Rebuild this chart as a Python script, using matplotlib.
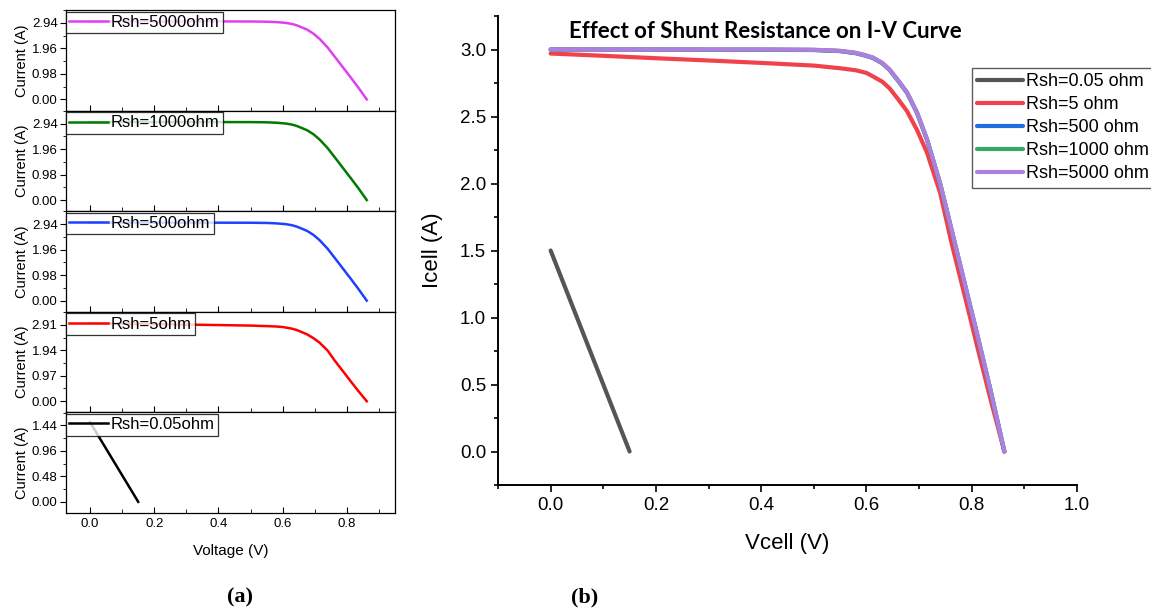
import numpy as np
import matplotlib
matplotlib.use("Agg")
import matplotlib.pyplot as plt
from matplotlib.ticker import MultipleLocator, AutoMinorLocator

plt.rcParams['font.family'] = ['Liberation Sans', 'DejaVu Sans']

# voltage grid (V)
v_grid = [0.0, 0.1, 0.2, 0.3, 0.4, 0.5, 0.55, 0.58, 0.60, 0.612, 0.63, 0.644, 0.66,
          0.677, 0.696, 0.715, 0.74, 0.762, 0.79, 0.81, 0.835, 0.862]
i_5000 = [3.0, 3.0, 3.0, 3.0, 3.0, 2.998, 2.99, 2.975, 2.955, 2.94, 2.90, 2.85, 2.77,
          2.68, 2.53, 2.33, 2.00, 1.65, 1.20, 0.88, 0.47, 0.0]
i_1000 = [3.0, 3.0, 3.0, 2.999, 2.999, 2.997, 2.989, 2.974, 2.954, 2.939, 2.899, 2.849, 2.769,
          2.679, 2.529, 2.329, 1.999, 1.649, 1.199, 0.879, 0.469, 0.0]
i_500 = [3.0, 2.999, 2.999, 2.998, 2.998, 2.996, 2.988, 2.972, 2.952, 2.937, 2.897, 2.847, 2.767,
         2.677, 2.527, 2.327, 1.997, 1.647, 1.197, 0.877, 0.467, 0.0]
i_5 = [2.97, 2.953, 2.935, 2.918, 2.90, 2.88, 2.86, 2.845, 2.825, 2.80, 2.76, 2.71, 2.63,
       2.54, 2.40, 2.23, 1.93, 1.55, 1.11, 0.79, 0.40, 0.0]
v_005 = [0.0, 0.15]
i_005 = [1.5, 0.0]

# panel (a) order top to bottom
a_labels = ['Rsh=5000ohm', 'Rsh=1000ohm', 'Rsh=500ohm', 'Rsh=5ohm', 'Rsh=0.05ohm']
a_colors = ['#E040F0', '#007A00', '#2040FF', '#FF0000', '#000000']
a_curves = [(v_grid, i_5000), (v_grid, i_1000), (v_grid, i_500), (v_grid, i_5), (v_005, i_005)]
a_ticks = [[0.00, 0.98, 1.96, 2.94], [0.00, 0.98, 1.96, 2.94], [0.00, 0.98, 1.96, 2.94],
           [0.00, 0.97, 1.94, 2.91], [0.00, 0.48, 0.96, 1.44]]

# panel (b)
b_labels = ['Rsh=0.05 ohm', 'Rsh=5 ohm', 'Rsh=500 ohm', 'Rsh=1000 ohm', 'Rsh=5000 ohm']
b_colors = ['#555555', '#F0424A', '#1E6FDC', '#36A865', '#AE7FDE']
b_curves = [(v_005, i_005), (v_grid, i_5), (v_grid, i_500), (v_grid, i_1000), (v_grid, i_5000)]

fig = plt.figure(figsize=(11.51, 6.13), dpi=100)

gs = fig.add_gridspec(5, 1, left=66/1151, right=395/1151, top=1-10/613, bottom=1-513/613, hspace=0)
for k in range(5):
    ax = fig.add_subplot(gs[k])
    x, y = a_curves[k]
    ax.plot(x, y, color=a_colors[k], lw=1.8, label=a_labels[k])
    m = a_ticks[k][-1]
    ax.set_ylim(-0.146*m, 1.17*m)
    ax.set_xlim(-0.075, 0.95)
    ax.set_yticks(a_ticks[k])
    ax.set_yticklabels(['%.2f' % t for t in a_ticks[k]])
    ax.yaxis.set_minor_locator(AutoMinorLocator(2))
    ax.xaxis.set_major_locator(MultipleLocator(0.2))
    ax.xaxis.set_minor_locator(MultipleLocator(0.1))
    ax.tick_params(axis='y', which='both', direction='out', labelsize=9.5, pad=2)
    ax.tick_params(axis='y', which='major', length=4)
    ax.tick_params(axis='y', which='minor', length=2.5)
    ax.tick_params(axis='x', which='both', direction='in', labelsize=9.5)
    ax.tick_params(axis='x', which='major', length=4)
    ax.tick_params(axis='x', which='minor', length=3)
    ax.set_ylabel('Current (A)', fontsize=10.5, labelpad=2)
    for s in ax.spines.values():
        s.set_linewidth(0.9)
    if k < 4:
        ax.tick_params(axis='x', labelbottom=False)
    else:
        ax.set_xlabel('Voltage (V)', fontsize=11, labelpad=10)
    leg = ax.legend(loc='upper left', fontsize=12, frameon=True, fancybox=False,
                    borderaxespad=0.0, borderpad=0.2, handlelength=2.3, handletextpad=0.2,
                    bbox_to_anchor=(0, 0.985))
    leg.get_frame().set_edgecolor('black')
    leg.get_frame().set_linewidth(0.9)

axb = fig.add_axes([498/1151, 1-485/613, 579/1151, 469/613])
for k in range(5):
    x, y = b_curves[k]
    axb.plot(x, y, color=b_colors[k], lw=3, label=b_labels[k], solid_capstyle='round')
axb.set_xlim(-0.1, 1.0)
axb.set_ylim(-0.25, 3.25)
axb.spines['top'].set_visible(False)
axb.spines['right'].set_visible(False)
axb.spines['left'].set_linewidth(1.4)
axb.spines['bottom'].set_linewidth(1.4)
axb.xaxis.set_major_locator(MultipleLocator(0.2))
axb.xaxis.set_minor_locator(MultipleLocator(0.1))
axb.yaxis.set_major_locator(MultipleLocator(0.5))
axb.yaxis.set_minor_locator(MultipleLocator(0.25))
axb.tick_params(which='both', direction='out', labelsize=13.5, width=1.2)
axb.tick_params(which='major', length=5)
axb.tick_params(which='minor', length=3)
axb.set_xlabel('Vcell (V)', fontsize=16, labelpad=14)
axb.set_ylabel('Icell (A)', fontsize=16, labelpad=12)
axb.set_title('Effect of Shunt Resistance on I-V Curve', fontsize=16, fontweight='bold',
              family='Lato', x=(765-498)/579, y=0.935)
legb = axb.legend(loc='upper left', bbox_to_anchor=(972/1151, 1-68/613), bbox_transform=fig.transFigure,
                  fontsize=13, frameon=True, fancybox=False, borderaxespad=0, borderpad=0.3,
                  handlelength=2.5, handletextpad=0.2, labelspacing=0.33)
legb.get_frame().set_edgecolor('#333333')
legb.get_frame().set_linewidth(1.0)

fig.text(240/1151, 1-597/613, '(a)', fontsize=16, fontweight='bold', family='Liberation Serif',
         ha='center', va='center')
fig.text(585/1151, 1-597/613, '(b)', fontsize=16, fontweight='bold', family='Liberation Serif',
         ha='center', va='center')

fig.savefig('out.png', dpi=100)
